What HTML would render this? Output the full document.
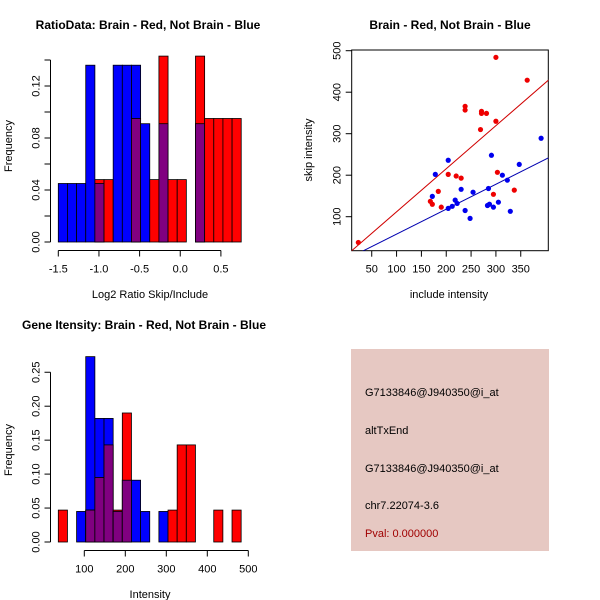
<!DOCTYPE html>
<html><head><meta charset="utf-8"><style>
body{margin:0;background:#fff}
svg{display:block;font-family:"Liberation Sans",sans-serif}
</style></head><body>
<svg id="c" width="600" height="600" viewBox="0 0 600 600">
<rect x="0" y="0" width="600" height="600" fill="#fff"/>
<g id="p1"></g>
<g id="p2"></g>
<g id="p3"></g>
<g>
<rect x="351" y="349" width="198" height="202" fill="#e6c8c2"/>
<g font-size="11" fill="#000">
<text x="365" y="396">G7133846@J940350@i_at</text>
<text x="365" y="434">altTxEnd</text>
<text x="365" y="472">G7133846@J940350@i_at</text>
<text x="365" y="509">chr7.22074-3.6</text>
<text x="365" y="537" fill="#a00000">Pval: 0.000000</text>
</g></g>
</svg>
<script>
// Panel 1 data: Log2 ratio histogram, 20 bins from -1.5 width 0.1125
const ratioBlue = [0.045,0.045,0.045,0.136,0.045,0,0.136,0.136,0.136,0.091,0,0.091,0,0,0,0.091,0,0,0,0];
const ratioRed  = [0,0,0,0,0.048,0.048,0,0,0.095,0,0.048,0.143,0.048,0.048,0,0.143,0.095,0.095,0.095,0.095];
const ratioXTicks = [-1.5,-1.0,-0.5,0.0,0.5];
const ratioXLabels = ["-1.5","-1.0","-0.5","0.0","0.5"];
const ratioYTicks = [0,0.02,0.04,0.06,0.08,0.10,0.12,0.14];
const ratioYLabels = ["0.00","","0.04","","0.08","","0.12",""];
// Panel 2 data: scatter
const redX = [23,300,363,238,238,271,271,281,269,300,303,204,220,230,184,168,172,190,295,337];
const redY = [38,484,429,366,357,354,349,349,310,330,207,202,198,193,161,137,130,123,154,164];
const blueX = [391,204,291,347,178,172,313,323,285,230,254,218,222,212,204,238,248,283,287,295,305,329];
const blueY = [289,236,248,226,202,149,200,188,168,166,159,140,132,125,120,115,96,127,130,123,135,113];
const redFit = [8,1.038];
const blueFit = [-2,0.601];
const scatXTicks = [50,100,150,200,250,300,350];
const scatYTicks = [100,200,300,400,500];
// Panel 3 data: intensity histogram, 20 bins from 36.6 width 22.3
const intBlue = [0,0,0.045,0.273,0.182,0.182,0.045,0.091,0.091,0.045,0,0.045,0,0,0,0,0,0,0,0];
const intRed  = [0.047,0,0,0.047,0.095,0.143,0.047,0.19,0,0,0,0,0.047,0.143,0.143,0,0,0.047,0,0.047];
const intXTicks = [100,200,300,400,500];
const intYTicks = [0,0.05,0.10,0.15,0.20,0.25];
const intYLabels = ["0.00","0.05","0.10","0.15","0.20","0.25"];

const NS="http://www.w3.org/2000/svg";
function mk(parent,tag,attrs,txt){const e=document.createElementNS(NS,tag);for(const k in attrs)e.setAttribute(k,attrs[k]);if(txt!==undefined)e.textContent=txt;parent.appendChild(e);return e;}

function hist(g,blue,red,x0,bw,sx,sy,name){
  for(let i=0;i<blue.length;i++){
    const xa=sx(x0+i*bw), xb=sx(x0+(i+1)*bw);
    const b=blue[i], r=red[i], m=Math.min(b,r);
    if(b>0){const e=mk(g,'rect',{x:xa,y:sy(b),width:xb-xa,height:sy(0)-sy(b),fill:'#0000ff',stroke:'#000','stroke-width':0.8});
      
      }
    if(r>0){const e=mk(g,'rect',{x:xa,y:sy(r),width:xb-xa,height:sy(0)-sy(r),fill:'#ff0000',stroke:'#000','stroke-width':0.8});
      
      }
    if(m>0){const e=mk(g,'rect',{x:xa,y:sy(m),width:xb-xa,height:sy(0)-sy(m),fill:'#800080',stroke:'#000','stroke-width':0.8});
      
      }
  }
}
function yaxis(g,x,ticks,labels,sy,name){
  const a=mk(g,'line',{x1:x,x2:x,y1:sy(ticks[0]),y2:sy(ticks[ticks.length-1]),stroke:'#000'});
  
  
  ticks.forEach((t,i)=>{
    mk(g,'line',{x1:x-6,x2:x,y1:sy(t),y2:sy(t),stroke:'#000'});
    if(labels[i]){const e=mk(g,'text',{x:0,y:0,'font-size':11,'text-anchor':'middle',transform:`translate(${x-11},${sy(t)}) rotate(-90)`},labels[i]);
      
      }
  });
}
function xaxis(g,y,ticks,labels,sx,name){
  const a=mk(g,'line',{x1:sx(ticks[0]),x2:sx(ticks[ticks.length-1]),y1:y,y2:y,stroke:'#000'});
  
  
  ticks.forEach((t,i)=>{
    mk(g,'line',{x1:sx(t),x2:sx(t),y1:y,y2:y+6,stroke:'#000'});
    const e=mk(g,'text',{x:sx(t),y:y+22,'font-size':11,'text-anchor':'middle'},labels[i]);
    
    
  });
}
function label(g,x,y,txt,opts,name){const e=mk(g,'text',Object.assign({x:x,y:y,'font-size':11,'text-anchor':'middle'},opts||{}),txt);
  
  return e;}

// Panel 1
(function(){
  const g=document.getElementById('p1');
  const sx=v=>58.3+(v+1.5)*81.3, sy=v=>242-v*1300;
  hist(g,ratioBlue,ratioRed,-1.5,0.1125,sx,sy,'ratio');
  yaxis(g,50.5,ratioYTicks,ratioYLabels,sy,'ratio');
  xaxis(g,250.5,ratioXTicks,ratioXLabels,sx,'ratio');
  label(g,148,29,'RatioData: Brain - Red, Not Brain - Blue',{'font-weight':'bold','font-size':12},'ratio-title');
  label(g,150,298,'Log2 Ratio Skip/Include',{},'ratio-x-axis-title');
  label(g,0,0,'Frequency',{transform:'translate(12,146) rotate(-90)'},'ratio-y-axis-title');
})();

// Panel 2
(function(){
  const g=document.getElementById('p2');
  const L=351.7,R=548.3,T=50,B=250.7;
  const sx=v=>346.9+v*0.4967, sy=v=>258.2-v*0.415;
  const cp=mk(g,'clipPath',{id:'scClip'});mk(cp,'rect',{x:L,y:T,width:R-L,height:B-T});
  const box=mk(g,'rect',{x:L,y:T,width:R-L,height:B-T,fill:'none',stroke:'#000'});
  
  
  const cg=mk(g,'g',{'clip-path':'url(#scClip)'});
  const x1=0,x2=420;
  const rl=mk(cg,'line',{x1:sx(x1),y1:sy(redFit[0]+redFit[1]*x1),x2:sx(x2),y2:sy(redFit[0]+redFit[1]*x2),stroke:'#d00000','stroke-width':1});
  
  
  const bl=mk(cg,'line',{x1:sx(x1),y1:sy(blueFit[0]+blueFit[1]*x1),x2:sx(x2),y2:sy(blueFit[0]+blueFit[1]*x2),stroke:'#0000b0','stroke-width':1});
  
  
  redX.forEach((x,i)=>{const c=mk(cg,'circle',{cx:sx(x),cy:sy(redY[i]),r:2.6,fill:'#ee0000'});
    
    });
  blueX.forEach((x,i)=>{const c=mk(cg,'circle',{cx:sx(x),cy:sy(blueY[i]),r:2.6,fill:'#0000ee'});
    
    });
  scatXTicks.forEach(t=>{mk(g,'line',{x1:sx(t),x2:sx(t),y1:B,y2:B+6,stroke:'#000'});
    const e=mk(g,'text',{x:sx(t),y:B+22,'font-size':11,'text-anchor':'middle'},String(t));
    
    });
  scatYTicks.forEach(t=>{mk(g,'line',{x1:L-6,x2:L,y1:sy(t),y2:sy(t),stroke:'#000'});
    const e=mk(g,'text',{x:0,y:0,'font-size':11,'text-anchor':'middle',transform:`translate(${L-11},${sy(t)}) rotate(-90)`},String(t));
    
    });
  label(g,450,29,'Brain - Red, Not Brain - Blue',{'font-weight':'bold','font-size':12},'scatter-title');
  label(g,449,298,'include intensity',{},'scatter-x-axis-title');
  label(g,0,0,'skip intensity',{transform:'translate(312,150) rotate(-90)'},'scatter-y-axis-title');
})();

// Panel 3
(function(){
  const g=document.getElementById('p3');
  const sx=v=>84.3+(v-100)*0.41, sy=v=>542-v*679;
  hist(g,intBlue,intRed,36.6,22.3,sx,sy,'intensity');
  yaxis(g,50.5,intYTicks,intYLabels,sy,'intensity');
  xaxis(g,550.5,intXTicks,intXTicks.map(String),sx,'intensity');
  label(g,144,329,'Gene Itensity: Brain - Red, Not Brain - Blue',{'font-weight':'bold','font-size':12},'intensity-title');
  label(g,150,598,'Intensity',{},'intensity-x-axis-title');
  label(g,0,0,'Frequency',{transform:'translate(12,450) rotate(-90)'},'intensity-y-axis-title');
})();
</script>
</body></html>
